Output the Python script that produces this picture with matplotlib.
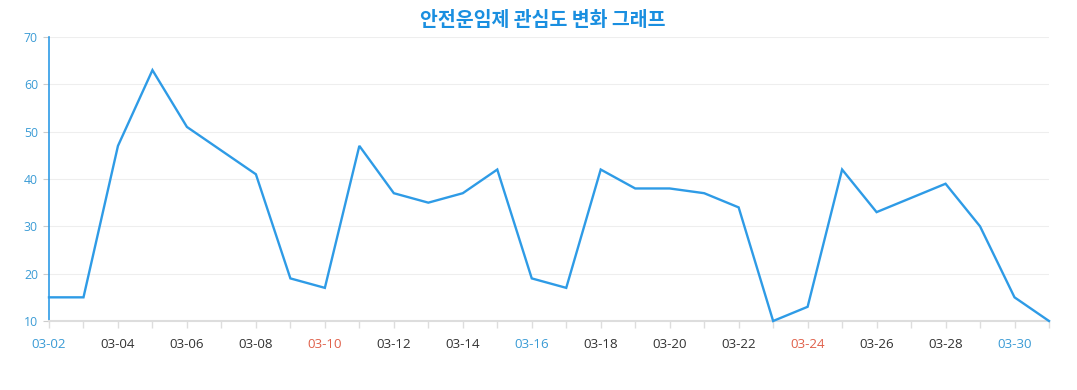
import matplotlib
matplotlib.use("Agg")
import matplotlib.pyplot as plt

dates = ["03-02", "03-03", "03-04", "03-05", "03-06", "03-07", "03-08", "03-09", "03-10", "03-11",
         "03-12", "03-13", "03-14", "03-15", "03-16", "03-17", "03-18", "03-19", "03-20", "03-21",
         "03-22", "03-23", "03-24", "03-25", "03-26", "03-27", "03-28", "03-29", "03-30", "03-31"]
values = [15, 15, 47, 63, 51, 46, 41, 19, 17, 47,
          37, 35, 37, 42, 19, 17, 42, 38, 38, 37,
          34, 10, 13, 42, 33, 36, 39, 30, 15, 10]
blue_labels = ["03-02", "03-16", "03-30"]
red_labels = ["03-10", "03-24"]
y_ticks = [10, 20, 30, 40, 50, 60, 70]
title = "안전운임제 관심도 변화 그래프"

line_color = "#2e9be6"
fig = plt.figure(figsize=(10.77, 3.90), dpi=100)
ax = fig.add_axes([49/1077, 1-321/390, 1000/1077, 284/390])

x = list(range(len(dates)))
ax.plot(x, values, color=line_color, lw=1.7, solid_joinstyle="miter", clip_on=False, zorder=3)

ax.set_xlim(0, len(dates)-1)
ax.set_ylim(10, 70)
ax.set_yticks(y_ticks)
ax.set_yticklabels([str(v) for v in y_ticks], fontsize=8.8, color="#3a9bd5", family="Open Sans")
ax.tick_params(axis="y", length=4, color="#cccccc", width=0.8, pad=4)
ax.grid(axis="y", color="#eeeeee", lw=0.8)
ax.set_axisbelow(True)

ax.set_xticks(x)
labels = [d if i % 2 == 0 else "" for i, d in enumerate(dates)]
ax.set_xticklabels(labels, fontsize=9.6, family="Open Sans")
for lbl, d in zip(ax.get_xticklabels(), dates):
    if d in blue_labels:
        lbl.set_color("#3a9bd5")
    elif d in red_labels:
        lbl.set_color("#e0604a")
    else:
        lbl.set_color("#333333")
ax.tick_params(axis="x", length=5, color="#dddddd", width=1, pad=7)

for s in ["top", "right"]:
    ax.spines[s].set_visible(False)
ax.spines["left"].set_color(line_color)
ax.spines["left"].set_linewidth(1.2)
ax.spines["bottom"].set_color("#dddddd")
ax.spines["bottom"].set_linewidth(1.5)

fig.text(543/1077, 1-21/390, title, ha="center", va="center", fontsize=14, fontweight="bold",
         color="#1a8fe0", family=["Noto Sans CJK KR", "DejaVu Sans"])

fig.savefig("out.png", dpi=100, facecolor="white")
